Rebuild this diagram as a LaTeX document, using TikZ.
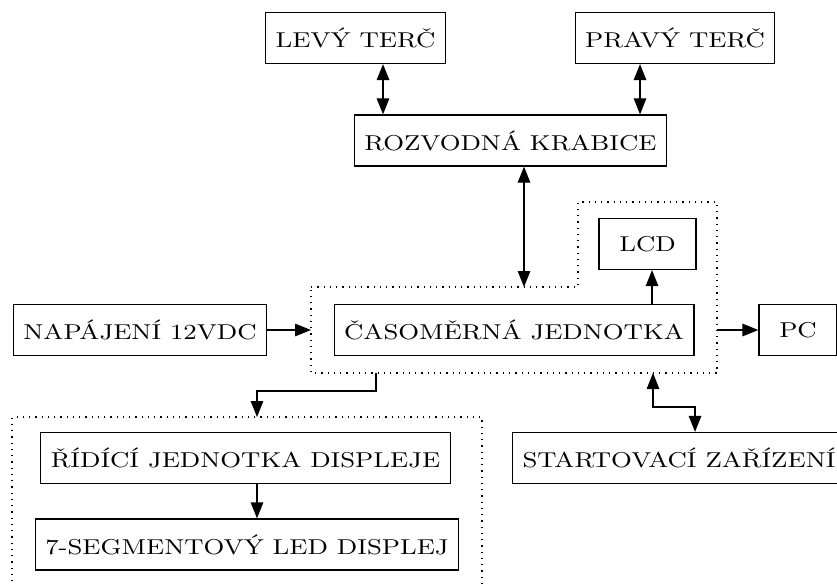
\documentclass[tikz,border=0pt]{standalone}
\usepackage{fontspec}
\newfontfamily\siroke{Latin Modern Roman}[FakeStretch=1.21]
\usetikzlibrary{arrows.meta, positioning}

\tikzset{
    blok/.style={draw, rectangle, minimum height=20.4pt, inner xsep=4pt,
        font=\siroke\fontsize{8.6}{10}\selectfont},
    sip/.style={-{Triangle[length=6.4pt,width=5pt]}},
    dvojsip/.style={{Triangle[length=6.4pt,width=5pt]}-{Triangle[length=6.4pt,width=5pt]}},
    skupina/.style={dotted}
}

\begin{document}
\begin{tikzpicture}[x=0.4pt, y=-0.4pt, line width=0.5pt]
    \useasboundingbox (0,0) rectangle (837,585);

    \node[blok] (levy) at (355.5,38) {LEVÝ TERČ};
    \node[blok] (pravy) at (675,38) {PRAVÝ TERČ};
    \node[blok] (rozvodna) at (510.5,140.5) {ROZVODNÁ KRABICE};
    \node[blok, minimum width=38.8pt] (lcd) at (647.5,244) {LCD};
    \node[blok] (casomer) at (514,330) {ČASOMĚRNÁ JEDNOTKA};
    \node[blok] (napajeni) at (140,330) {NAPÁJENÍ 12VDC};
    \node[blok, minimum width=31.2pt] (pc) at (798,330) {PC};
    \node[blok] (start) at (679,458) {STARTOVACÍ ZAŘÍZENÍ};
    \node[blok] (ridici) at (245.5,458) {ŘÍDÍCÍ JEDNOTKA DISPLEJE};
    \node[blok] (segment) at (247,544.5) {7-SEGMENTOVÝ LED DISPLEJ};

    % dotted groups
    \draw[skupina] (311,287) -- (578,287) -- (578,202) -- (717,202)
        -- (717,373) -- (311,373) -- cycle;
    \draw[skupina] (12,600) -- (12,417) -- (482,417) -- (482,600);

    \coordinate (levyx) at (383,0);
    \coordinate (pravyx) at (640,0);
    \coordinate (rozvx) at (524,287);
    \coordinate (lcdx) at (652,0);
    \coordinate (skupW) at (311,0);
    \coordinate (skupE) at (717,0);
    \coordinate (startS) at (653,373);
    \coordinate (startx) at (695,407);
    \coordinate (dispS) at (376,373);
    \coordinate (dispx) at (257,391);
    \coordinate (dispN) at (257,417);

    \draw[dvojsip] (levy.south -| levyx) -- (rozvodna.north -| levyx);
    \draw[dvojsip] (pravy.south -| pravyx) -- (rozvodna.north -| pravyx);
    \draw[dvojsip] (rozvodna.south -| rozvx) -- (rozvx);
    \draw[sip] (casomer.north -| lcdx) -- (lcd.south -| lcdx);
    \draw[sip] (napajeni) -- (napajeni -| skupW);
    \draw[sip] (casomer -| skupE) -- (pc);
    \draw[dvojsip] (startS) |- (startx) -- (start.north -| startx);
    \draw[sip] (dispS) |- (dispx) -- (dispN);
    \draw[sip] (ridici.south -| dispx) -- (segment.north -| dispx);
\end{tikzpicture}
\end{document}
